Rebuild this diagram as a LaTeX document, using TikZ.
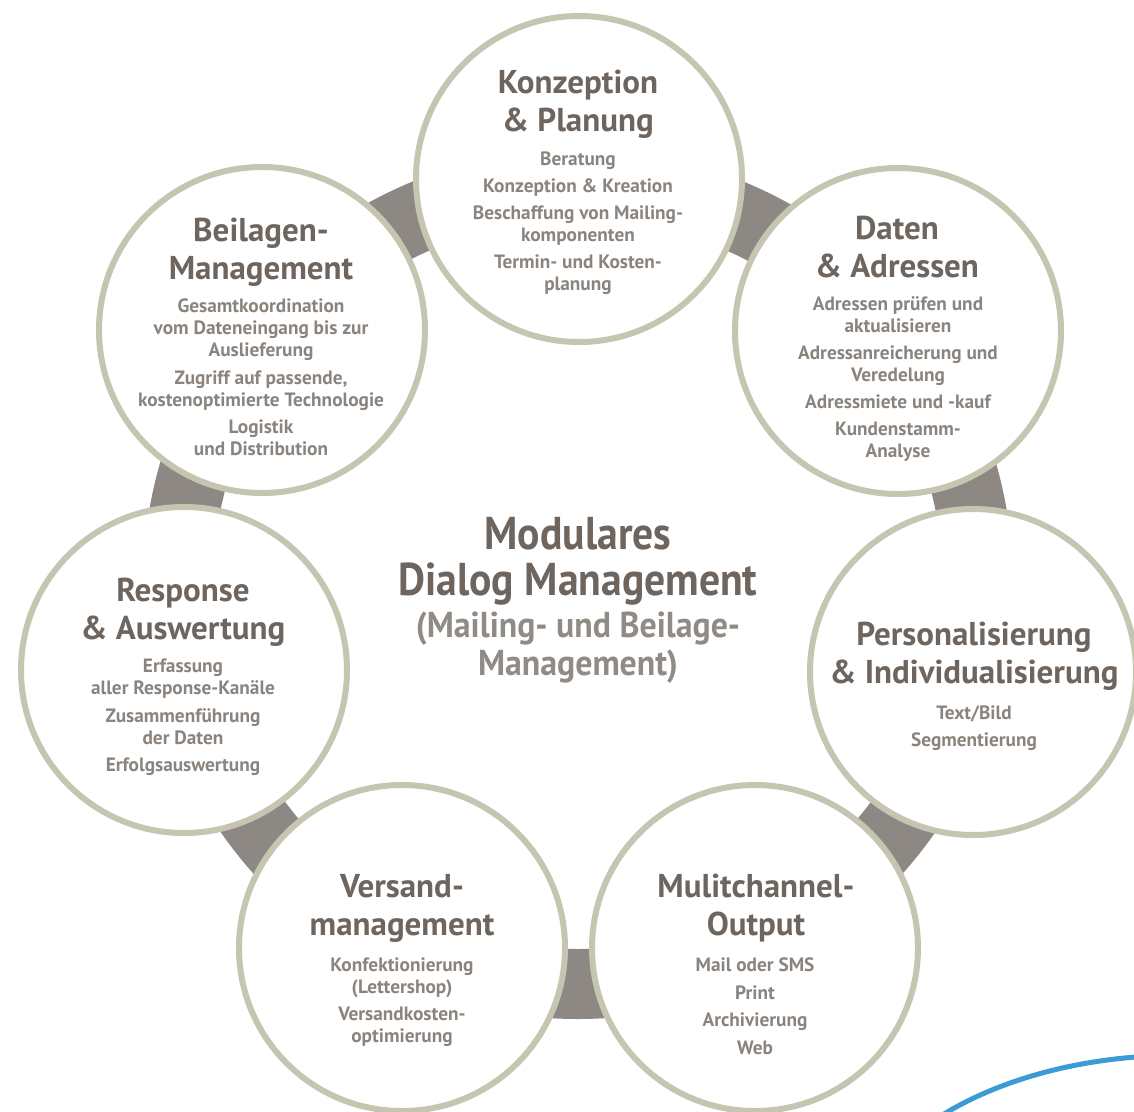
\documentclass[tikz,border=0pt]{standalone}
\usepackage{fontspec}
\setmainfont{PT Sans}
\newfontfamily\titlefont{PT Sans}[FakeStretch=0.905]
\newfontfamily\subfont{PT Sans}[FakeStretch=0.94]
\definecolor{headc}{HTML}{6E655E}
\definecolor{bodyc}{HTML}{8B847E}
\definecolor{subc}{HTML}{918B85}
\definecolor{ringc}{HTML}{C6C5B1}
\definecolor{bandc}{HTML}{8D8884}
\definecolor{bluec}{HTML}{3B9BD6}
\newcommand{\mylines}[1]{\begin{tabular}[t]{@{}c@{}}#1\end{tabular}}
\tikzset{
  ringnode/.style={circle, draw=ringc, line width=6pt, fill=white, minimum size=326pt, inner sep=0pt},
  band/.style={draw=bandc, line width=70pt},
  head/.style={anchor=base, inner sep=0pt, text=headc, font=\bfseries\fontsize{33}{38}\selectfont},
  body/.style={anchor=base, inner sep=0pt, text=bodyc, font=\bfseries\fontsize{19.3}{22}\selectfont},
  title/.style={anchor=base, inner sep=0pt, text=headc, font=\titlefont\bfseries\fontsize{46}{46}\selectfont},
  subtitle/.style={anchor=base, inner sep=0pt, text=subc, font=\subfont\bfseries\fontsize{36}{38}\selectfont},
  bluearc/.style={draw=bluec, line width=5pt}
}
\begin{document}
\begin{tikzpicture}[x=1pt,y=-1pt]
\useasboundingbox (0,0) rectangle (1134,1111);
\coordinate (ctr) at (578,584);
\draw[band] (ctr) circle[radius=400pt];
\node[ringnode] (c1) at (579,179) {};
\node[ringnode] (c2) at (898,331) {};
\node[ringnode] (c3) at (973,672) {};
\node[ringnode] (c4) at (755,948) {};
\node[ringnode] (c5) at (402,948) {};
\node[ringnode] (c6) at (184,670) {};
\node[ringnode] (c7) at (262,330) {};
% Konzeption
\node[head] (h1) at (578,93) {\mylines{Konzeption\\\& Planung}};
\node[body] (b1) at (578,165) {\mylines{Beratung\\[5pt]Konzeption \& Kreation\\[5pt]Beschaffung von Mailing-\\komponenten\\[5pt]Termin- und Kosten-\\planung}};
% Daten
\node[head] (h2) at (897,239) {\mylines{Daten\\\& Adressen}};
\node[body] (b2) at (898,310.5) {\mylines{Adressen prüfen und\\aktualisieren\\[5pt]Adressanreicherung und\\Veredelung\\[5pt]Adressmiete und -kauf\\[5pt]Kundenstamm-\\Analyse}};
% Personalisierung
\node[head] (h3) at (974,645) {\mylines{Personalisierung\\\& Individualisierung}};
\node[body] (b3) at (974,719.5) {\mylines{Text/Bild\\[5pt]Segmentierung}};
% Multichannel
\node[head] (h4) at (756,897) {\mylines{Mulitchannel-\\Output}};
\node[body] (b4) at (755,971.5) {\mylines{Mail oder SMS\\[5.5pt]Print\\[5.5pt]Archivierung\\[5.5pt]Web}};
% Versand
\node[head] (h5) at (402,897) {\mylines{Versand-\\management}};
\node[body] (b5) at (402,971.5) {\mylines{Konfektionierung\\(Lettershop)\\[5pt]Versandkosten-\\optimierung}};
% Response
\node[head] (h6) at (183,601) {\mylines{Response\\\& Auswertung}};
\node[body] (b6) at (183,672.5) {\mylines{Erfassung\\aller Response-Kanäle\\[6pt]Zusammenführung\\der Daten\\[5pt]Erfolgsauswertung}};
% Beilagen
\node[head] (h7) at (261,241) {\mylines{Beilagen-\\Management}};
\node[body] (b7) at (261,312) {\mylines{Gesamtkoordination\\vom Dateneingang bis zur\\Auslieferung\\[6pt]Zugriff auf passende,\\kostenoptimierte Technologie\\[5pt]Logistik\\und Distribution}};
% Center
\node[title] (t) at (578,549) {\mylines{Modulares\\Dialog Management}};
\node[subtitle] (s) at (578,637) {\mylines{(Mailing- und Beilage-\\Management)}};
% blue arc
\coordinate (bl1) at (944,1114);
\coordinate (bl2) at (1136,1057);
\draw[bluearc] (bl1) .. controls (1000,1080) and (1070,1062) .. (bl2);
\end{tikzpicture}
\end{document}
